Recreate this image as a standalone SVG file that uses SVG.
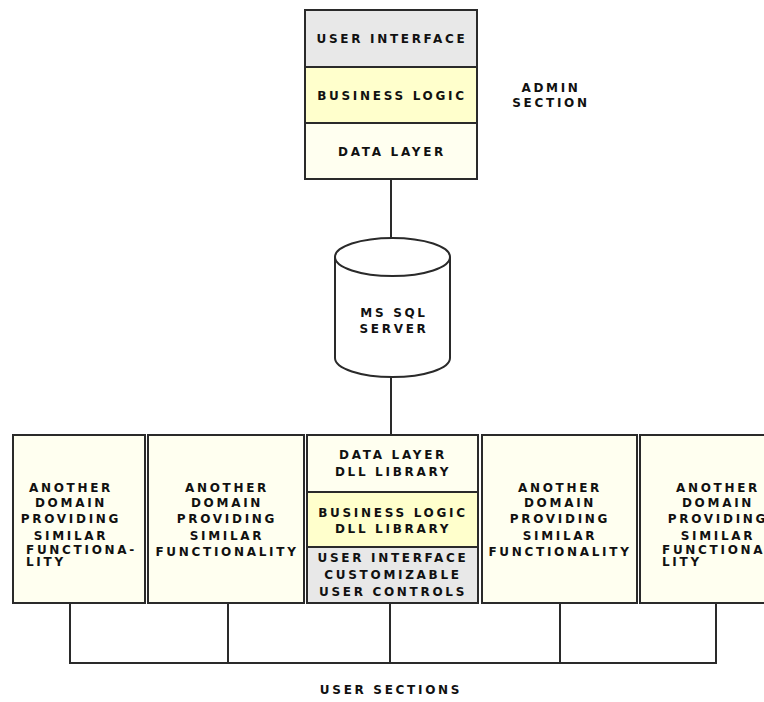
<svg xmlns="http://www.w3.org/2000/svg" width="764" height="702" viewBox="0 0 764 702">
<style>
.box{stroke:#2a2a2a;stroke-width:2}
.gray{fill:#e8e8e8}
.yel{fill:#ffffcc}
.pale{fill:#fffff0}
.t{font-family:"DejaVu Sans",sans-serif;font-size:12px;font-weight:bold;letter-spacing:2.7px;fill:#111;text-anchor:middle}
.l{text-anchor:start}
.c{stroke:#2a2a2a;stroke-width:2;fill:none}
</style>
<rect width="764" height="702" fill="#fff"/>
<g id="connectors">
<line class="c" x1="391" y1="179" x2="391" y2="238"/>
<line class="c" x1="391" y1="377" x2="391" y2="435"/>
<path class="c" d="M70,603 V663 H716 V603 M228,603 V663 M390,603 V663 M560,603 V663"/>
</g>
<g id="admin">
<rect class="box gray" x="305" y="10" width="172" height="57"/>
<rect class="box yel" x="305" y="67" width="172" height="56"/>
<rect class="box pale" x="305" y="123" width="172" height="56"/>
<text class="t" x="392" y="43">USER INTERFACE</text>
<text class="t" x="392" y="100">BUSINESS LOGIC</text>
<text class="t" x="392" y="156">DATA LAYER</text>
</g>
<g id="admin-label">
<text class="t" x="551" y="92">ADMIN</text>
<text class="t" x="551" y="107">SECTION</text>
</g>
<g id="db">
<path class="box" fill="#fff" d="M335,257 V358 A57.5,19 0 0 0 450,358 V257"/>
<ellipse class="box" fill="#fff" cx="392.5" cy="257" rx="57.5" ry="19"/>
<text class="t" x="394" y="317">MS SQL</text>
<text class="t" x="394" y="333">SERVER</text>
</g>
<g id="domain1">
<rect class="box pale" x="13" y="435" width="132" height="168"/>
<text class="t" x="71" y="492">ANOTHER</text>
<text class="t" x="71" y="507">DOMAIN</text>
<text class="t" x="71" y="523">PROVIDING</text>
<text class="t" x="71" y="540">SIMILAR</text>
<text class="t l" x="26" y="554">FUNCTIONA-</text>
<text class="t l" x="26" y="566">LITY</text>
</g>
<g id="domain2">
<rect class="box pale" x="148" y="435" width="156" height="168"/>
<text class="t" x="227" y="492">ANOTHER</text>
<text class="t" x="227" y="507">DOMAIN</text>
<text class="t" x="227" y="523">PROVIDING</text>
<text class="t" x="227" y="540">SIMILAR</text>
<text class="t" x="227" y="556">FUNCTIONALITY</text>
</g>
<g id="user-center">
<rect class="box pale" x="307" y="435" width="171" height="57"/>
<rect class="box yel" x="307" y="492" width="171" height="55"/>
<rect class="box gray" x="307" y="547" width="171" height="56"/>
<text class="t" x="393" y="459">DATA LAYER</text>
<text class="t" x="393" y="476">DLL LIBRARY</text>
<text class="t" x="393" y="517">BUSINESS LOGIC</text>
<text class="t" x="393" y="533">DLL LIBRARY</text>
<text class="t" x="393" y="562">USER INTERFACE</text>
<text class="t" x="393" y="579">CUSTOMIZABLE</text>
<text class="t" x="393" y="596">USER CONTROLS</text>
</g>
<g id="domain4">
<rect class="box pale" x="482" y="435" width="155" height="168"/>
<text class="t" x="560" y="492">ANOTHER</text>
<text class="t" x="560" y="507">DOMAIN</text>
<text class="t" x="560" y="523">PROVIDING</text>
<text class="t" x="560" y="540">SIMILAR</text>
<text class="t" x="560" y="556">FUNCTIONALITY</text>
</g>
<g id="domain5">
<rect class="box pale" x="640" y="435" width="140" height="168"/>
<text class="t" x="718" y="492">ANOTHER</text>
<text class="t" x="718" y="507">DOMAIN</text>
<text class="t" x="718" y="523">PROVIDING</text>
<text class="t" x="718" y="540">SIMILAR</text>
<text class="t l" x="662" y="554">FUNCTIONA-</text>
<text class="t l" x="662" y="566">LITY</text>
</g>
<g id="user-label">
<text class="t" x="391" y="694">USER SECTIONS</text>
</g>
</svg>
